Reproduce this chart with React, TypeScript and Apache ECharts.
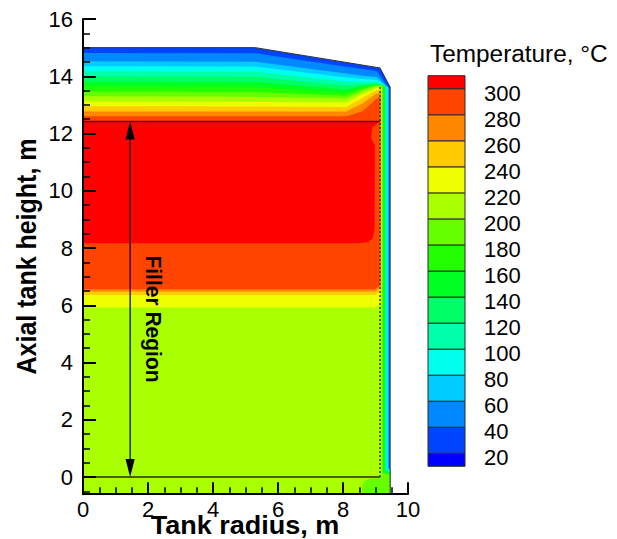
import React, { useEffect, useRef } from 'react';
import * as echarts from 'echarts';

const FONT = '"Liberation Sans", Arial, Helvetica, sans-serif';

// ---------- axes ----------
const X_MIN = 0;
const X_MAX = 10;
const X_STEP = 2;
const Y_MIN = -0.6;
const Y_MAX = 16;
const Y_MAJOR_TICKS = [0, 2, 4, 6, 8, 10, 12, 14, 16];
const Y_MINOR_TICKS = [
  -0.5, 0.5, 1, 1.5, 2.5, 3, 3.5, 4.5, 5, 5.5, 6.5, 7, 7.5, 8.5, 9, 9.5,
  10.5, 11, 11.5, 12.5, 13, 13.5, 14.5, 15, 15.5,
];

// ---------- colour scale (Temperature, °C) ----------
const LEGEND_TICKS = [20, 40, 60, 80, 100, 120, 140, 160, 180, 200, 220, 240, 260, 280, 300];
const BAND_LOW = [10, 20, 40, 60, 80, 100, 120, 140, 160, 180, 200, 220, 240, 260, 280, 300];
const BAND_HIGH = [20, 40, 60, 80, 100, 120, 140, 160, 180, 200, 220, 240, 260, 280, 300, 310];
const BAND_COLORS = [
  '#0000ff', '#0044ff', '#0088ff', '#00ccff', '#00ffee', '#00ffaa', '#00ff66', '#00ff22',
  '#22ff00', '#66ff00', '#aaff00', '#eeff00', '#ffcc00', '#ff8800', '#ff4400', '#ff0000',
];

// ---------- tank geometry (radius m, height m) ----------
const TANK_R = 9.45;
const TANK_OUTLINE = [[0, -0.6], [9.45, -0.6], [9.45, 13.62], [9.14, 14.29], [5.3, 15], [0, 15]];
const INNER_WALL_R = 9.14;
const INNER_WALL_TOP = 13.65;
const FILLER_TOP = 12.42;
const FILLER_BOTTOM = 0;
const ARROW_R = 1.45;

// ---------- isotherms ----------
const ISO_LEVELS = [40, 60, 80, 100, 120, 140, 160, 180, 200, 220, 240, 260, 280];
const ISO_TOP_R = [0, 5.3, 8.1, 8.6, 8.9, 9.05];
const ISO_TOP_Z = [
  [14.81, 14.8, 14.33, 14.25, 14.2, 14.17],
  [14.52, 14.51, 14.1, 14.02, 13.99, 13.97],
  [14.35, 14.34, 13.96, 13.9, 13.89, 13.88],
  [14.17, 14.16, 13.82, 13.8, 13.8, 13.8],
  [14.0, 13.98, 13.68, 13.72, 13.74, 13.75],
  [13.82, 13.8, 13.54, 13.66, 13.71, 13.72],
  [13.65, 13.63, 13.42, 13.61, 13.68, 13.7],
  [13.47, 13.45, 13.32, 13.55, 13.65, 13.68],
  [13.3, 13.28, 13.22, 13.48, 13.6, 13.65],
  [13.12, 13.11, 13.08, 13.38, 13.53, 13.6],
  [12.95, 12.94, 12.93, 13.25, 13.44, 13.52],
  [12.77, 12.77, 12.77, 13.05, 13.3, 13.4],
  [12.6, 12.6, 12.6, 12.78, 13.08, 13.22],
];
const ISO_WALL_R = [9.425, 9.4, 9.37, 9.34, 9.31, 9.28, 9.25, 9.22, 9.19, 9.18, 9.17, 9.16, 9.15];
const ISO_CORNER_Z = [13.58, 13.6, 13.62, 13.63, 13.65, 13.67, 13.68, 13.68, 13.66, 13.62, 13.55, 13.45, 13.3];
const ISO_WALL_BOTTOM_Z = [0.36, 0.33, 0.3, 0.27, 0.24, 0.21, 0.18, 0.15, null, null, null, null, null];
const ISO_LOWER_Z = [null, null, null, null, null, null, null, null, null, 5.92, 6.36, 6.48, 6.56];
const PATCH_EDGE_200 = [[9.19, 0.05], [9.13, -0.03], [8.82, -0.05], [8.66, -0.15], [8.59, -0.32], [8.58, -0.6]];
const HOT_CORE_300 = [
  [0, 8.17], [8.5, 8.17], [8.78, 8.21], [8.92, 8.35], [8.97, 8.7], [8.98, 11.6],
  [8.86, 11.85], [8.9, 12.2], [9.12, 12.42], [0, 12.42],
];

function isoPolygon(k: number): number[][] {
  const pts: number[][] = ISO_TOP_R.map((r, j) => [r, ISO_TOP_Z[k][j]]);
  pts.push([ISO_WALL_R[k], ISO_CORNER_Z[k]]);
  const zl = ISO_LOWER_Z[k];
  const zb = ISO_WALL_BOTTOM_Z[k];
  if (zl != null) {
    pts.push([ISO_WALL_R[k], zl + 0.15], [INNER_WALL_R - 0.14, zl], [0, zl]);
  } else if (zb != null) {
    pts.push([ISO_WALL_R[k], zb], [TANK_R, zb - 0.08], [TANK_R, Y_MIN], [0, Y_MIN]);
  } else {
    PATCH_EDGE_200.forEach((p) => pts.push(p));
    pts.push([0, Y_MIN]);
  }
  return pts;
}

const FIELD_REGIONS: { level: number; pts: number[][] }[] = [
  { level: 20, pts: TANK_OUTLINE },
  ...ISO_LEVELS.map((level, k) => ({ level, pts: isoPolygon(k) })),
  { level: 300, pts: HOT_CORE_300 },
];

export default function App() {
  const ref = useRef<HTMLDivElement>(null);

  useEffect(() => {
    if (!ref.current) return;
    const chart = echarts.init(ref.current, null, { renderer: 'svg' });
    const black = { color: '#000', width: 2 };

    const option: any = {
      animation: false,
      backgroundColor: '#ffffff',
      grid: [
        { left: 83, top: 19, width: 325, height: 475.2, containLabel: false, outerBoundsMode: 'none' },
        { left: 428, top: 75.7, width: 37, height: 390.6, containLabel: false, outerBoundsMode: 'none' },
      ],
      xAxis: [
        {
          gridIndex: 0, type: 'value', min: X_MIN, max: X_MAX, interval: X_STEP, z: 5,
          axisLine: { show: true, onZero: false, lineStyle: black },
          axisTick: { show: true, inside: true, length: 12, lineStyle: black },
          minorTick: { show: true, splitNumber: 4, length: 7, lineStyle: { color: '#000', width: 1.5 } },
          axisLabel: { fontSize: 22, color: '#000', margin: 4, fontFamily: FONT },
          splitLine: { show: false },
        },
        { gridIndex: 1, type: 'value', min: 0, max: 1, show: false },
      ],
      yAxis: [
        {
          gridIndex: 0, type: 'value', min: Y_MIN, max: Y_MAX, z: 5,
          axisLine: { show: true, onZero: false, lineStyle: black },
          axisTick: { show: true, inside: true, length: 13, customValues: Y_MAJOR_TICKS, lineStyle: black },
          axisLabel: { customValues: Y_MAJOR_TICKS, fontSize: 22, color: '#000', margin: 10, fontFamily: FONT },
          splitLine: { show: false },
        },
        {
          gridIndex: 0, type: 'value', min: Y_MIN, max: Y_MAX, position: 'left', z: 5,
          axisLine: { show: false },
          axisTick: { show: true, inside: true, length: 7, customValues: Y_MINOR_TICKS, lineStyle: { color: '#000', width: 1.5 } },
          axisLabel: { show: false },
          splitLine: { show: false },
        },
        {
          gridIndex: 1, type: 'value', min: BAND_LOW[0], max: BAND_HIGH[BAND_HIGH.length - 1], position: 'right',
          axisLine: { show: false },
          axisTick: { show: false },
          axisLabel: {
            customValues: LEGEND_TICKS, fontSize: 22, color: '#000', margin: 19, fontFamily: FONT,
            verticalAlign: 'top', lineHeight: 9,
          },
          splitLine: { show: false },
        },
      ],
      series: [
        {
          type: 'custom', name: 'field', xAxisIndex: 0, yAxisIndex: 0, z: 2, silent: true,
          data: FIELD_REGIONS.map((f) => [f.level, 0]),
          renderItem: (params: any, api: any) => {
            const reg = FIELD_REGIONS[params.dataIndex];
            return {
              type: 'polygon',
              z2: params.dataIndex,
              shape: { points: reg.pts.map((p) => api.coord(p)) },
              style: { fill: BAND_COLORS[reg.level / 20], stroke: null },
            };
          },
        },
        {
          type: 'custom', name: 'annotations', xAxisIndex: 0, yAxisIndex: 0, z: 3, silent: true,
          data: [[0, 0]],
          renderItem: (_params: any, api: any) => {
            const c = (p: number[]) => api.coord(p);
            const a = c([0, FILLER_TOP]);
            const b = c([INNER_WALL_R, FILLER_TOP]);
            const d = c([0, FILLER_BOTTOM]);
            const e = c([INNER_WALL_R, FILLER_BOTTOM]);
            const w1 = c([INNER_WALL_R, FILLER_BOTTOM]);
            const w2 = c([INNER_WALL_R, INNER_WALL_TOP]);
            const ar0 = c([ARROW_R, FILLER_BOTTOM]);
            const ar1 = c([ARROW_R, FILLER_TOP]);
            const outline = [TANK_OUTLINE[5], TANK_OUTLINE[4], TANK_OUTLINE[3], TANK_OUTLINE[2], TANK_OUTLINE[1]].map(c);
            const hl = 18;
            const hw = 4.6;
            return {
              type: 'group',
              children: [
                { type: 'polyline', shape: { points: outline }, style: { stroke: '#333', lineWidth: 1, fill: null } },
                { type: 'line', shape: { x1: a[0], y1: a[1], x2: b[0], y2: b[1] }, style: { stroke: '#6b0000', lineWidth: 1.4 } },
                { type: 'line', shape: { x1: d[0], y1: d[1], x2: e[0], y2: e[1] }, style: { stroke: '#2a2a00', lineWidth: 1.3 } },
                { type: 'line', shape: { x1: w1[0], y1: w1[1], x2: w2[0], y2: w2[1] }, style: { stroke: '#3a2200', lineWidth: 1.4, lineDash: [2, 2] } },
                { type: 'line', shape: { x1: ar0[0], y1: ar0[1] - hl + 2, x2: ar1[0], y2: ar1[1] + hl - 2 }, style: { stroke: '#000', lineWidth: 1.2 } },
                { type: 'polygon', shape: { points: [[ar1[0], ar1[1]], [ar1[0] - hw, ar1[1] + hl], [ar1[0] + hw, ar1[1] + hl]] }, style: { fill: '#000' } },
                { type: 'polygon', shape: { points: [[ar0[0], ar0[1]], [ar0[0] - hw, ar0[1] - hl], [ar0[0] + hw, ar0[1] - hl]] }, style: { fill: '#000' } },
              ],
            };
          },
        },
        {
          type: 'custom', name: 'colorbar', xAxisIndex: 1, yAxisIndex: 2, z: 2, silent: true,
          data: BAND_LOW.map((lo, i) => [lo, BAND_HIGH[i]]),
          renderItem: (params: any, api: any) => {
            const i = params.dataIndex;
            const p1 = api.coord([0, BAND_HIGH[i]]);
            const p2 = api.coord([1, BAND_LOW[i]]);
            return {
              type: 'rect',
              shape: { x: p1[0], y: p1[1], width: p2[0] - p1[0], height: p2[1] - p1[1] },
              style: { fill: BAND_COLORS[i], stroke: '#2b2b2b', lineWidth: 1 },
            };
          },
        },
      ],
      graphic: [
        {
          type: 'text', x: 27, y: 256.5, rotation: Math.PI / 2, scaleY: 1.08, silent: true,
          style: { text: 'Axial tank height, m', font: `bold 25px ${FONT}`, fill: '#000', align: 'center', verticalAlign: 'middle', textAlign: 'center', textVerticalAlign: 'middle' },
        },
        {
          type: 'text', x: 245, y: 525, scaleX: 1.08, silent: true,
          style: { text: 'Tank radius, m', font: `bold 25px ${FONT}`, fill: '#000', align: 'center', verticalAlign: 'middle', textAlign: 'center', textVerticalAlign: 'middle' },
        },
        {
          type: 'text', x: 154, y: 319, rotation: -Math.PI / 2, scaleY: 1.08, silent: true, z: 10,
          style: { text: 'Filler Region', font: `bold 21px ${FONT}`, fill: '#000', align: 'center', verticalAlign: 'middle', textAlign: 'center', textVerticalAlign: 'middle' },
        },
        {
          type: 'text', x: 430, y: 54, scaleX: 1.06, silent: true,
          style: { text: 'Temperature, °C', font: `23px ${FONT}`, fill: '#000', align: 'left', verticalAlign: 'middle', textAlign: 'left', textVerticalAlign: 'middle' },
        },
      ],
    };

    chart.setOption(option);
    return () => chart.dispose();
  }, []);

  return (
    <div
      ref={ref}
      style={{ position: 'fixed', left: 0, top: 0, width: 617, height: 539, background: '#fff' }}
    />
  );
}
